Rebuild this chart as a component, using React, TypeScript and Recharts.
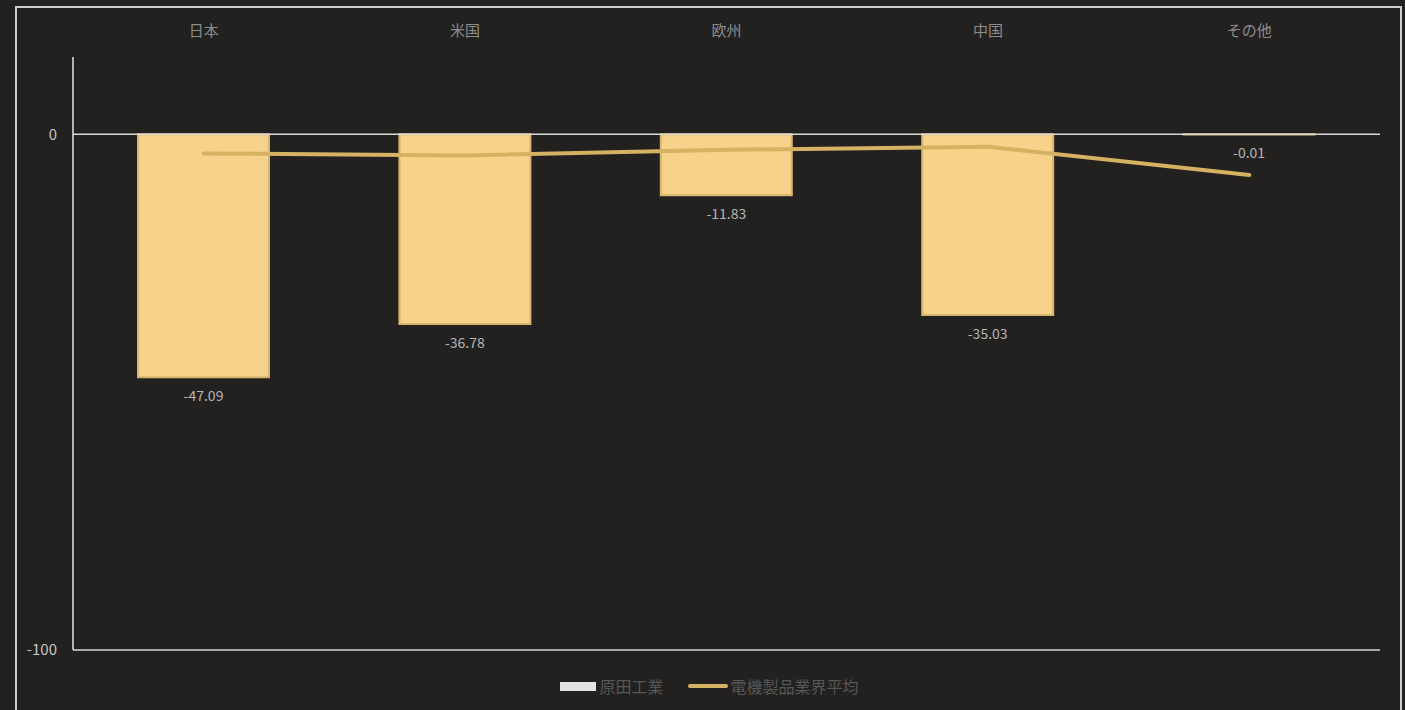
import React from 'react';
import {
  ComposedChart,
  Bar,
  Line,
  XAxis,
  YAxis,
  ReferenceLine,
  Legend,
  LabelList,
} from 'recharts';

// 地域別の値
const regions = ['日本', '米国', '欧州', '中国', 'その他'];
const haradaValues = [-47.09, -36.78, -11.83, -35.03, -0.01];
const industryAverage = [-3.7, -4.1, -3.0, -2.4, -7.9];
const yTicks = [0, -100];

const data = regions.map((name, i) => ({
  name,
  harada: haradaValues[i],
  average: industryAverage[i],
}));

const FONT = '"Noto Sans CJK JP", "Noto Sans", sans-serif';
const BAR_FILL = '#f6d28a';
const BAR_STROKE = '#d8b56e';
const LINE_COLOR = '#d5b162';

const BarValueLabel = (props: any) => {
  const { x, y, width, height, value } = props;
  const bottom = Math.max(y, y + height);
  return (
    <text
      x={x + width / 2}
      y={bottom + 18}
      textAnchor="middle"
      dominantBaseline="central"
      fill="#b5b5b5"
      fontSize={14}
      fontFamily={FONT}
    >
      {value.toFixed(2)}
    </text>
  );
};

const LegendContent = () => (
  <div
    style={{
      display: 'flex',
      justifyContent: 'center',
      alignItems: 'center',
      fontFamily: FONT,
      fontSize: 16,
      color: '#575757',
      paddingTop: 24,
      paddingLeft: 24,
    }}
  >
    <span style={{ display: 'inline-block', width: 36, height: 9, background: '#e4e4e4', marginRight: 3 }} />
    <span>原田工業</span>
    <span style={{ display: 'inline-block', width: 40, height: 4, borderRadius: 2, background: LINE_COLOR, marginLeft: 24, marginRight: 3 }} />
    <span>電機製品業界平均</span>
  </div>
);

export default function App() {
  return (
    <div
      style={{
        position: 'fixed',
        left: 0,
        top: 0,
        width: 1405,
        height: 710,
        background: '#222120',
        overflow: 'hidden',
      }}
    >
      <div
        style={{
          position: 'absolute',
          left: 15,
          top: 6,
          width: 1383,
          height: 720,
          border: '2px solid #cdcdcd',
        }}
      />
      <div style={{ position: 'absolute', left: 0, top: 0 }}>
        <ComposedChart
          width={1405}
          height={710}
          data={data}
          margin={{ top: 10, right: 25, bottom: 0, left: 15 }}
          barSize={131}
        >
          <XAxis
            dataKey="name"
            orientation="top"
            height={47}
            axisLine={false}
            tickLine={false}
            tick={{ fill: '#8c8c8c', fontSize: 15, fontFamily: FONT }}
            tickMargin={15}
          />
          <YAxis
            domain={[-100, 15]}
            ticks={yTicks}
            width={58}
            axisLine={{ stroke: '#e6e6e6', strokeWidth: 1.5 }}
            tickLine={false}
            tick={{ fill: '#c6c6c6', fontSize: 15, fontFamily: FONT }}
            tickMargin={10}
          />
          <ReferenceLine y={0} stroke="#d9d9d9" strokeWidth={1.5} />
          <ReferenceLine y={-100} stroke="#d9d9d9" strokeWidth={1.5} />
          <Legend verticalAlign="bottom" height={60} content={<LegendContent />} />
          <Bar
            dataKey="harada"
            name="原田工業"
            fill={BAR_FILL}
            stroke={BAR_STROKE}
            strokeWidth={2}
            isAnimationActive={false}
          >
            <LabelList dataKey="harada" content={<BarValueLabel />} />
          </Bar>
          <Line
            dataKey="average"
            name="電機製品業界平均"
            type="linear"
            stroke={LINE_COLOR}
            strokeWidth={4}
            strokeLinecap="round"
            dot={false}
            activeDot={false}
            isAnimationActive={false}
          />
        </ComposedChart>
      </div>
    </div>
  );
}
